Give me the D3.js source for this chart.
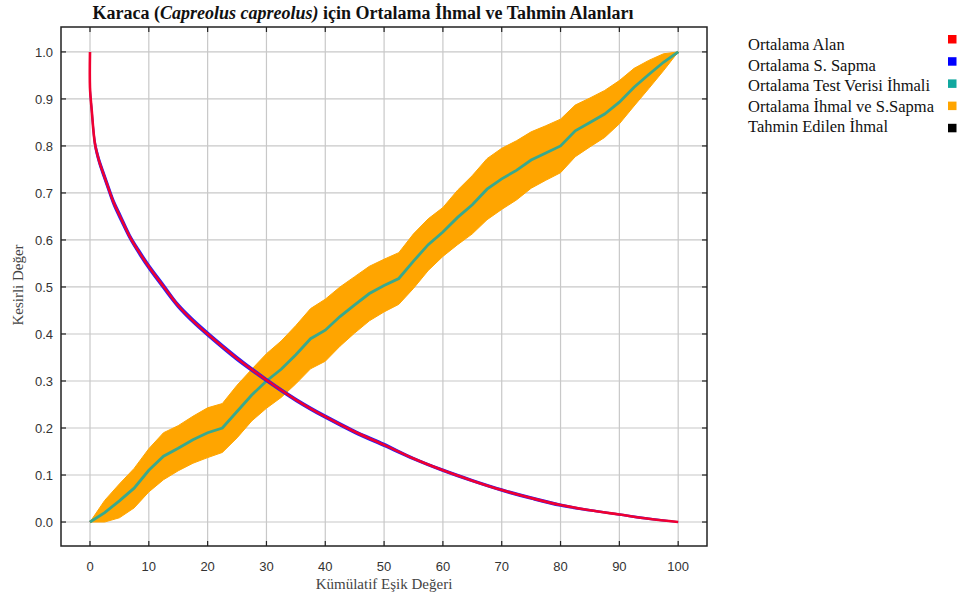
<!DOCTYPE html>
<html>
<head>
<meta charset="utf-8">
<script src="https://cdn.jsdelivr.net/npm/d3@7"></script>
<style>
  body { margin: 0; background: #fff; }
  svg { display: block; }
</style>
</head>
<body>
<svg id="chart" width="959" height="600"></svg>
<script>
// mean fractional predicted area (red) and its std (blue)
const areaX = [0, 0, 0.3, 0.85, 1.5, 2.3, 3, 4, 5.3, 6.8, 8.4, 10, 12.5, 15, 17.5, 20, 25, 30, 35, 40, 45, 50, 55, 60, 65, 70, 75, 80, 85, 90, 95, 100];
const areaMean = [1.0, 0.924, 0.875, 0.804, 0.77, 0.74, 0.715, 0.68, 0.645, 0.606, 0.573, 0.543, 0.501, 0.46, 0.428, 0.40, 0.348, 0.302, 0.26, 0.224, 0.192, 0.164, 0.135, 0.11, 0.088, 0.068, 0.051, 0.036, 0.025, 0.016, 0.007, 0.0];
const areaStd = [0.0, 0.003, 0.005, 0.006, 0.006, 0.006, 0.006, 0.006, 0.006, 0.005, 0.005, 0.005, 0.005, 0.004, 0.004, 0.004, 0.004, 0.003, 0.003, 0.003, 0.003, 0.003, 0.002, 0.002, 0.002, 0.002, 0.002, 0.002, 0.001, 0.001, 0.001, 0.0];

// mean test omission (teal) and std (orange band)
const omitX = [0, 2.5, 5, 7.5, 10, 12.5, 15, 17.5, 20, 22.5, 25, 27.5, 30, 32.5, 35, 37.5, 40, 42.5, 45, 47.5, 50, 52.5, 55, 57.5, 60, 62.5, 65, 67.5, 70, 72.5, 75, 77.5, 80, 82.5, 85, 87.5, 90, 92.5, 95, 97.5, 100];
const omitMean = [0, 0.02, 0.045, 0.072, 0.11, 0.14, 0.157, 0.175, 0.19, 0.20, 0.235, 0.27, 0.30, 0.325, 0.356, 0.39, 0.408, 0.437, 0.462, 0.486, 0.503, 0.518, 0.555, 0.59, 0.617, 0.648, 0.675, 0.708, 0.73, 0.748, 0.77, 0.785, 0.80, 0.832, 0.85, 0.868, 0.893, 0.925, 0.952, 0.978, 1.0];
const omitStd = [0, 0.026, 0.036, 0.042, 0.046, 0.05, 0.048, 0.05, 0.053, 0.052, 0.056, 0.055, 0.058, 0.06, 0.062, 0.064, 0.066, 0.063, 0.06, 0.058, 0.056, 0.055, 0.058, 0.055, 0.052, 0.058, 0.062, 0.065, 0.065, 0.063, 0.06, 0.058, 0.057, 0.055, 0.052, 0.05, 0.046, 0.04, 0.03, 0.018, 0];

// predicted omission (black)
const predX = [0, 100];
const predY = [0, 1];

const xTicks = [0, 10, 20, 30, 40, 50, 60, 70, 80, 90, 100];
const yTicks = [0, 0.1, 0.2, 0.3, 0.4, 0.5, 0.6, 0.7, 0.8, 0.9, 1.0];

const legendNames = ["Ortalama Alan", "Ortalama S. Sapma", "Ortalama Test Verisi İhmali", "Ortalama İhmal ve S.Sapma", "Tahmin Edilen İhmal"];
const legendColors = ["#ff0000", "#0000ff", "#11a89f", "#ffa500", "#000000"];

const svg = d3.select("#chart");
const frame = { left: 61, right: 707, top: 27, bottom: 546 };

const x = d3.scaleLinear().domain([-4.93, 104.9]).range([frame.left, frame.right]);
const y = d3.scaleLinear().domain([-0.051, 1.053]).range([frame.bottom, frame.top]);

// grid
const grid = svg.append("g").attr("stroke", "#c8c8c8").attr("stroke-width", 1.2);
grid.selectAll(".gx").data(xTicks).enter().append("line")
  .attr("x1", d => x(d)).attr("x2", d => x(d))
  .attr("y1", frame.top).attr("y2", frame.bottom);
grid.selectAll(".gy").data(yTicks).enter().append("line")
  .attr("x1", frame.left).attr("x2", frame.right)
  .attr("y1", d => y(d)).attr("y2", d => y(d));

const plot = svg.append("g");

// predicted omission
const predData = predX.map((d, i) => ({ x: d, y: predY[i] }));
plot.append("path")
  .datum(predData)
  .attr("fill", "none")
  .attr("stroke", "#000")
  .attr("stroke-width", 2)
  .attr("d", d3.line().x(d => x(d.x)).y(d => y(d.y)));

// omission band
const omitData = omitX.map((d, i) => ({ x: d, m: omitMean[i], s: omitStd[i] }));
plot.append("path")
  .datum(omitData)
  .attr("fill", "#ffa500")
  .attr("stroke", "#ffa500")
  .attr("stroke-width", 1)
  .attr("d", d3.area()
    .x(d => x(d.x))
    .y0(d => y(Math.max(0, d.m - d.s)))
    .y1(d => y(Math.min(1, d.m + d.s))));

plot.append("path")
  .datum(omitData)
  .attr("fill", "none")
  .attr("stroke", "#38a98e")
  .attr("stroke-width", 2.8)
  .attr("d", d3.line().x(d => x(d.x)).y(d => y(d.m)));

// area std + mean
const areaData = areaX.map((d, i) => ({ x: d, m: areaMean[i], s: areaStd[i] }));
plot.append("path")
  .datum(areaData)
  .attr("fill", "#0000ff")
  .attr("stroke", "#2020ff")
  .attr("stroke-width", 1.6)
  .attr("d", d3.area()
    .curve(d3.curveCatmullRom.alpha(0.5))
    .x(d => x(d.x))
    .y0(d => y(d.m - d.s))
    .y1(d => y(d.m + d.s)));

plot.append("path")
  .datum(areaData)
  .attr("fill", "none")
  .attr("stroke", "#f00030")
  .attr("stroke-width", 2.6)
  .attr("d", d3.line().curve(d3.curveCatmullRom.alpha(0.5)).x(d => x(d.x)).y(d => y(d.m)));

// frame + inward ticks
svg.append("rect")
  .attr("x", frame.left).attr("y", frame.top)
  .attr("width", frame.right - frame.left).attr("height", frame.bottom - frame.top)
  .attr("fill", "none").attr("stroke", "#222").attr("stroke-width", 1.5);

const tk = svg.append("g").attr("stroke", "#222").attr("stroke-width", 1.2);
tk.selectAll(".tb").data(xTicks).enter().append("line")
  .attr("x1", d => x(d)).attr("x2", d => x(d)).attr("y1", frame.bottom).attr("y2", frame.bottom - 5);
tk.selectAll(".tt").data(xTicks).enter().append("line")
  .attr("x1", d => x(d)).attr("x2", d => x(d)).attr("y1", frame.top).attr("y2", frame.top + 5);
tk.selectAll(".tl").data(yTicks).enter().append("line")
  .attr("y1", d => y(d)).attr("y2", d => y(d)).attr("x1", frame.left).attr("x2", frame.left + 5);
tk.selectAll(".tr").data(yTicks).enter().append("line")
  .attr("y1", d => y(d)).attr("y2", d => y(d)).attr("x1", frame.right).attr("x2", frame.right - 5);

// tick labels
svg.append("g").selectAll("text").data(xTicks).enter().append("text")
  .attr("x", d => x(d)).attr("y", 571)
  .attr("text-anchor", "middle")
  .style("font-family", "'Liberation Sans', Arial, sans-serif")
  .style("font-size", "13px").style("fill", "#333")
  .text(d => d);

svg.append("g").selectAll("text").data(yTicks).enter().append("text")
  .attr("x", 53).attr("y", d => y(d) + 5)
  .attr("text-anchor", "end")
  .style("font-family", "'Liberation Sans', Arial, sans-serif")
  .style("font-size", "13px").style("fill", "#333")
  .text(d => d3.format(".1f")(d));

// axis titles
svg.append("text")
  .attr("x", 384).attr("y", 589)
  .attr("text-anchor", "middle")
  .style("font-family", "'Liberation Serif', 'Times New Roman', serif")
  .style("font-size", "15px").style("fill", "#444")
  .text("Kümülatif Eşik Değeri");

svg.append("text")
  .attr("transform", "translate(23,285) rotate(-90)")
  .attr("text-anchor", "middle")
  .style("font-family", "'Liberation Serif', 'Times New Roman', serif")
  .style("font-size", "15px").style("fill", "#444")
  .text("Kesirli Değer");

// title
const title = svg.append("text")
  .attr("x", 363).attr("y", 19)
  .attr("text-anchor", "middle")
  .style("font-family", "'Liberation Serif', 'Times New Roman', serif")
  .style("font-size", "18px").style("font-weight", "bold").style("fill", "#111");
title.append("tspan").text("Karaca (");
title.append("tspan").style("font-style", "italic").text("Capreolus capreolus)");
title.append("tspan").text(" için Ortalama İhmal ve Tahmin Alanları");

// legend
const leg = svg.append("g");
leg.selectAll("text").data(legendNames).enter().append("text")
  .attr("x", 748).attr("y", (d, i) => 50 + i * 20.5)
  .style("font-family", "'Liberation Serif', 'Times New Roman', serif")
  .style("font-size", "16.5px").style("fill", "#111")
  .text(d => d);
leg.selectAll("rect").data(legendColors).enter().append("rect")
  .attr("x", 948).attr("y", (d, i) => 35 + i * 22.2)
  .attr("width", 8.5).attr("height", 8.5)
  .attr("fill", d => d);
</script>
</body>
</html>
